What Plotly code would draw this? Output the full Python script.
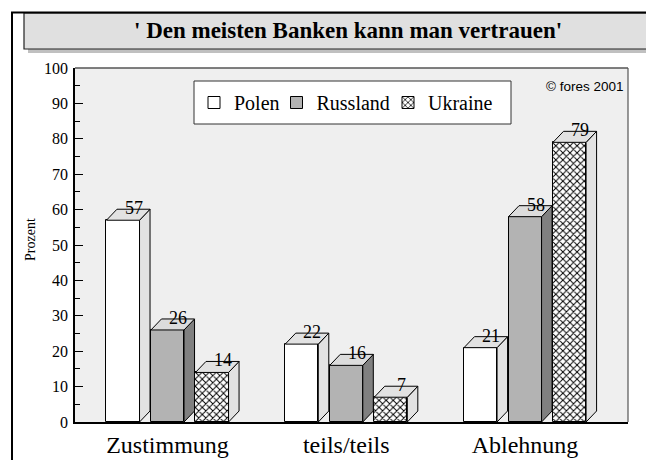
import plotly.graph_objects as go

# ---------------- data ----------------
categories = ["Zustimmung", "teils/teils", "Ablehnung"]
series_names = ["Polen", "Russland", "Ukraine"]
polen = [57, 22, 21]
russland = [26, 16, 58]
ukraine = [14, 7, 79]
y_ticks = [0, 10, 20, 30, 40, 50, 60, 70, 80, 90, 100]

title_text = "' Den meisten Banken kann man vertrauen'"
y_title = "Prozent"
credit = "\u00a9 fores 2001"

# ---------------- styling ----------------
# the page body has an 8px default margin, so the figure is 8px smaller
OFF = 8
PAGE_W, PAGE_H = 654, 460
W, H = PAGE_W - OFF, PAGE_H - OFF
PL, PR, PT, PB = 75, 628, 68, 422          # plot area in page pixels
ML, MR, MT, MB = PL - OFF, PAGE_W - PR, PT - OFF, PAGE_H - PB
PW, PH = W - ML - MR, H - MT - MB

X0, X1 = -0.5175, 2.576
offsets = [-0.249, 0.0, 0.249]
BW = 0.185
DX = (X1 - X0) / PW * 10.5      # depth offset in x units
DY = 100 / PH * 11              # depth offset in y units

front_colors = ["#ffffff", "#b3b3b3", "#ffffff"]
side_colors = ["#e2e2e2", "#808080", "#e2e2e2"]
top_colors = ["#e2e2e2", "#dcdcdc", "#e2e2e2"]

SERIF = "Liberation Serif"
SANS = "Liberation Sans"


def px_x(p):
    return (p - PL) / PW


def px_y(p):
    return (PB - p) / PH


values = [polen, russland, ukraine]
legend_ids = ["legend", "legend2", "legend3"]
legend_sq_centers = [216, 298.5, 410]

fig = go.Figure()

for j, (name, vals) in enumerate(zip(series_names, values)):
    xs = [i + offsets[j] for i in range(len(categories))]
    pattern = dict(shape="x", size=5, solidity=0.35, fgcolor="black",
                   bgcolor="white", fgopacity=1) if j == 2 else dict(shape="")
    fig.add_trace(go.Bar(
        x=xs, y=vals, width=BW, name=name,
        marker=dict(color=front_colors[j], line=dict(color="black", width=1),
                    pattern=pattern),
        legend=legend_ids[j], hoverinfo="skip",
    ))
    sx, sy = [], []
    tx, ty = [], []
    for x, v in zip(xs, vals):
        xl, xr = x - BW / 2, x + BW / 2
        sx += [xr, xr + DX, xr + DX, xr, xr, None]
        sy += [0, DY, v + DY, v, 0, None]
        tx += [xl, xl + DX, xr + DX, xr, xl, None]
        ty += [v, v + DY, v + DY, v, v, None]
    fig.add_trace(go.Scatter(x=sx, y=sy, fill="toself", mode="lines",
                             fillcolor=side_colors[j],
                             line=dict(color="black", width=1),
                             showlegend=False, hoverinfo="skip"))
    fig.add_trace(go.Scatter(x=tx, y=ty, fill="toself", mode="lines",
                             fillcolor=top_colors[j],
                             line=dict(color="black", width=1),
                             showlegend=False, hoverinfo="skip"))
    for x, v in zip(xs, vals):
        fig.add_annotation(x=x + DX, y=v + DY, text=str(v), showarrow=False,
                           xanchor="center", yanchor="bottom", yshift=-11,
                           font=dict(family=SERIF, size=18, color="black"))

shapes = []
shapes.append(dict(type="rect", xref="paper", yref="paper",
                   x0=px_x(28), x1=px_x(670), y0=px_y(53), y1=px_y(17),
                   fillcolor="#c0c0c0", line=dict(width=0), layer="above"))
shapes.append(dict(type="rect", xref="paper", yref="paper",
                   x0=px_x(24), x1=px_x(670), y0=px_y(49), y1=px_y(13),
                   fillcolor="#e0e0e0", line=dict(color="#222222", width=1.2),
                   layer="above"))
shapes.append(dict(type="line", xref="paper", yref="paper",
                   x0=px_x(12), x1=px_x(12), y0=px_y(12), y1=px_y(480),
                   line=dict(color="black", width=2), layer="above"))
shapes.append(dict(type="line", xref="paper", yref="paper",
                   x0=px_x(11), x1=px_x(670), y0=px_y(12.5), y1=px_y(12.5),
                   line=dict(color="black", width=2), layer="above"))
shapes.append(dict(type="line", xref="paper", yref="paper",
                   x0=0, x1=1, y0=1, y1=1,
                   line=dict(color="#555555", width=1.5), layer="above"))
shapes.append(dict(type="line", xref="paper", yref="paper",
                   x0=1, x1=1, y0=0, y1=1,
                   line=dict(color="#555555", width=1.2), layer="above"))
shapes.append(dict(type="rect", xref="paper", yref="paper",
                   x0=px_x(194), x1=px_x(511), y0=px_y(124), y1=px_y(81),
                   fillcolor="white", line=dict(color="#333333", width=1),
                   layer="above"))

fig.update_layout(shapes=shapes)

fig.add_annotation(xref="paper", yref="paper", x=px_x(348), y=px_y(31),
                   text="<b>" + title_text + "</b>", showarrow=False,
                   xanchor="center", yanchor="middle",
                   font=dict(family=SERIF, size=23, color="black"))
fig.add_annotation(xref="paper", yref="paper", x=px_x(30), y=px_y(240),
                   text=y_title, showarrow=False, textangle=-90,
                   xanchor="center", yanchor="middle",
                   font=dict(family=SERIF, size=14, color="black"))
fig.add_annotation(xref="paper", yref="paper", x=px_x(626), y=px_y(86),
                   text=credit, showarrow=False, xanchor="right",
                   yanchor="middle",
                   font=dict(family=SANS, size=13.5, color="black"))

legend_common = dict(orientation="h", bgcolor="rgba(0,0,0,0)", borderwidth=0,
                     font=dict(family=SERIF, size=20, color="black"),
                     xanchor="left", yanchor="middle", y=px_y(102.5))
fig.update_layout(
    legend=dict(legend_common, x=px_x(legend_sq_centers[0] - 22)),
    legend2=dict(legend_common, x=px_x(legend_sq_centers[1] - 22)),
    legend3=dict(legend_common, x=px_x(legend_sq_centers[2] - 22)),
)

fig.update_layout(
    width=W, height=H,
    margin=dict(l=ML, r=MR, t=MT, b=MB, pad=0, autoexpand=False),
    paper_bgcolor="white", plot_bgcolor="#efefef",
    barmode="overlay", bargap=0,
    xaxis=dict(range=[X0, X1], tickvals=list(range(len(categories))),
               ticktext=categories, ticks="", showgrid=False, zeroline=False,
               showline=True, linecolor="black", linewidth=2,
               tickfont=dict(family=SERIF, size=24, color="black"),
               ticklabelstandoff=0, automargin=False, fixedrange=True),
    yaxis=dict(range=[0, 100], tickvals=y_ticks, ticks="inside", ticklen=8,
               tickwidth=1, tickcolor="black", showgrid=False,
               zeroline=False, showline=True, linecolor="black", linewidth=1.5,
               minor=dict(ticks="inside", ticklen=5, dtick=5,
                          tickcolor="black", tickwidth=1),
               tickfont=dict(family=SERIF, size=16, color="black"),
               ticklabelstandoff=2, automargin=False, fixedrange=True),
    showlegend=True,
)

fig.write_html("out.html")
